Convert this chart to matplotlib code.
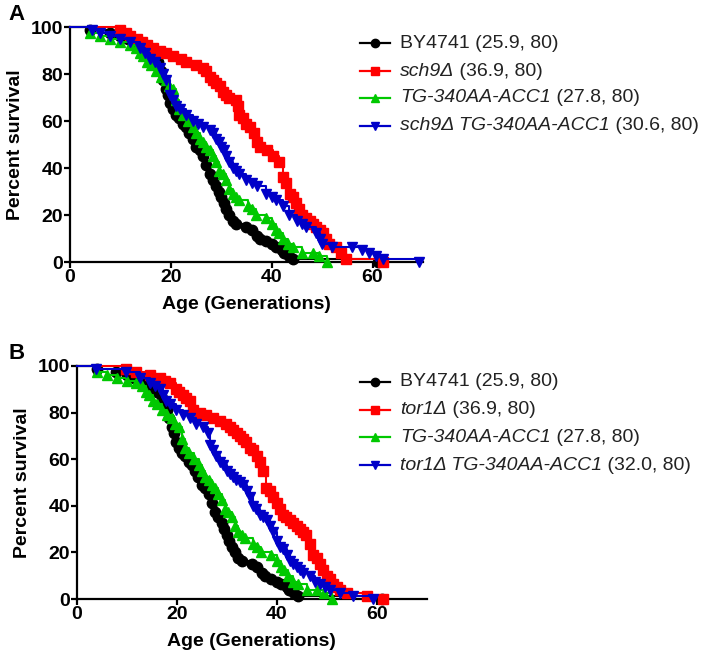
import matplotlib
matplotlib.use("Agg")
import matplotlib.pyplot as plt
from matplotlib.lines import Line2D

# Kaplan-Meier survival (age in generations, % surviving)
by_age = [0, 4, 7.9, 10, 11.5, 13, 13.8, 15, 16, 17, 17.5, 18, 18.5, 19, 19.5, 19.8, 20.5, 21, 21.7, 22.4,
          23, 23.7, 24.3, 25, 25.7, 26.4, 27, 27.7, 28.3, 29, 29.5, 30, 30.5, 31, 31.6, 32.3, 33, 35, 36, 37,
          37.6, 38.9, 40, 40.9, 42, 42.5, 43.5, 44.2, 61]
by_surv = [100, 98.75, 97.5, 96.25, 95, 93.75, 92.5, 90, 88.75, 86.25, 85, 81.25, 77.5, 73.75, 71.25, 67.5, 65, 62.5, 61.25, 58.75,
           57.5, 55, 52.5, 48.75, 47.5, 45, 41.25, 37.5, 35, 32.5, 30, 27.5, 25, 22.5, 20, 17.5, 16.25, 15, 13.75, 11.25,
           10, 8.75, 7.5, 6.25, 5, 3.75, 2.5, 1.25, 0]

tg_age = [0, 4, 6, 8, 10, 11.9, 13, 13.8, 14.5, 15.2, 16, 17, 18, 19, 19.7, 20.4, 21, 21.7, 22.4, 23.4,
          24.4, 25, 25.7, 26.4, 27, 27.7, 28.3, 29, 29.6, 30.3, 31, 31.6, 32.3, 33, 33.6, 35.3, 36.1, 36.9, 38.9, 40,
          40.9, 41.5, 42.2, 43.2, 44.2, 46.1, 48.1, 49.4, 51]
tg_surv = [100, 97.5, 96.25, 95, 93.75, 92.5, 91.25, 88.75, 87.5, 85, 83.75, 81.25, 78.75, 77.5, 75, 73.75, 68.75, 65, 62.5, 60,
           57.5, 55, 52.5, 51.25, 48.75, 47.5, 45, 42.5, 38.75, 37.5, 35, 31.25, 28.75, 27.5, 26.25, 23.75, 22.5, 20, 18.75, 16.25,
           13.75, 12.5, 10, 7.5, 6.25, 3.75, 3.75, 2.5, 0]

sch9_age = [0, 9.9, 11.2, 11.9, 13.2, 14.2, 15.2, 16.5, 17.8, 19.1, 20.4, 22, 23, 25, 26.4, 27, 27.7, 28.4, 29, 29.7,
            30.3, 31, 31.6, 33, 33.3, 33.6, 34.3, 35, 35.7, 36.4, 37, 37.6, 39, 40.2, 41.5, 42.2, 42.9, 43.6, 44.2, 44.8,
            45.5, 46.1, 46.8, 47.5, 48.1, 48.8, 49.5, 50.1, 50.8, 51.4, 52.8, 53.8, 54.7, 62]
sch9_surv = [100, 98.75, 97.5, 96.25, 95, 93.75, 92.5, 91.25, 90, 88.75, 87.5, 86.25, 85, 83.75, 82.5, 81.25, 78.75, 77.5, 76.25, 75,
             72.5, 71.25, 70, 68.75, 66.25, 62.5, 61.25, 58.75, 57.5, 55, 51.25, 48.75, 47.5, 45, 42.5, 36.25, 33.75, 28.75, 27.5, 25,
             22.5, 20, 18.75, 17.5, 16.25, 15, 13.75, 12.5, 10, 7.5, 6.25, 3.75, 1.25, 0]

sch9tg_age = [0, 4.3, 5.9, 7.9, 9.9, 11.9, 13.8, 14.8, 15.8, 16.8, 17.8, 18.5, 19.1, 19.8, 20.4, 21.1, 21.8, 23, 24.4, 25.4,
              26.4, 27.7, 28.4, 29, 29.5, 30, 30.5, 31, 31.6, 32.3, 33, 33.6, 35, 36, 37, 38.9, 40, 40.9, 42.2, 43.5,
              45, 46, 46.8, 48.8, 49.5, 50, 52, 56, 58, 59.3, 60.6, 62, 69.2]
sch9tg_surv = [100, 98.75, 97.5, 96.25, 95, 93.75, 91.25, 88.75, 86.25, 85, 82.5, 80, 77.5, 71.25, 68.75, 66.25, 65, 62.5, 60, 58.75,
               57.5, 56.25, 55, 52.5, 51.25, 48.75, 47.5, 45, 42.5, 40, 38.75, 37.5, 35, 33.75, 32.5, 28.75, 27.5, 26.25, 23.75, 20,
               17.5, 16.25, 15, 12.5, 10, 7.5, 6.25, 6.25, 5, 3.75, 2.5, 1.25, 0]

tor1_age = [0, 9.9, 11.9, 14.6, 16.6, 17.6, 18.6, 19.9, 20.5, 21.2, 21.9, 22.6, 23.2, 24.6, 25.9, 27.3, 28.6, 29.9, 30.6, 31.3,
            32, 32.6, 33.3, 33.9, 34.6, 35.3, 36, 36.6, 37.3, 37.9, 38.6, 39.3, 40, 40.6, 41.3, 41.9, 42.6, 43.3, 44, 44.6,
            45.3, 45.9, 46.6, 47.3, 48, 48.6, 49.3, 50, 50.6, 51.3, 52, 52.6, 54, 58, 61.3]
tor1_surv = [100, 98.75, 97.5, 96.25, 95, 93.75, 92.5, 90, 88.75, 87.5, 86.25, 85, 81.25, 80, 78.75, 77.5, 76.25, 75, 73.75, 72.5,
             71.25, 70, 68.75, 67.5, 65, 63.75, 61.25, 58.75, 55, 47.5, 46.25, 43.75, 41.25, 38.75, 36.25, 35, 33.75, 32.5, 31.25, 30,
             28.75, 27.5, 23.75, 18.75, 17.5, 15, 12.5, 10, 8.75, 6.25, 5, 3.75, 2.5, 1.25, 0]

tor1tg_age = [0, 3.9, 9.9, 12.6, 14.6, 15.6, 16.6, 17.2, 17.9, 18.6, 19.9, 21.2, 22.6, 23.9, 25.3, 26.3, 26.6, 27.3, 27.9, 28.6,
              29.3, 30, 30.6, 31.3, 31.9, 32.6, 33.3, 34, 34.6, 35.3, 35.9, 36.6, 37.3, 38, 38.6, 39.3, 40, 40.6, 41.3, 42,
              42.6, 43.3, 44, 44.6, 45.3, 46.6, 47.6, 48.6, 49.6, 50.6, 52.6, 55.3, 59.3]
tor1tg_surv = [100, 98.75, 97.5, 95, 92.5, 91.25, 90, 87.5, 85, 83.75, 81.25, 78.75, 77.5, 75, 73.75, 71.25, 66.25, 63.75, 61.25, 58.75,
               57.5, 55, 53.75, 52.5, 51.25, 50, 48.75, 46.25, 43.75, 40, 38.75, 36.25, 35, 33.75, 31.25, 28.75, 25, 22.5, 21.25, 18.75,
               16.25, 15, 13.75, 12.5, 11.25, 10, 7.5, 6.25, 5, 3.75, 2.5, 1.25, 0]

# legend entries: (italic part, plain part)
labels_a = [("", "BY4741 (25.9, 80)"),
            ("sch9Δ", " (36.9, 80)"),
            ("TG-340AA-ACC1", " (27.8, 80)"),
            ("sch9Δ TG-340AA-ACC1", " (30.6, 80)")]
labels_b = [("", "BY4741 (25.9, 80)"),
            ("tor1Δ", " (36.9, 80)"),
            ("TG-340AA-ACC1", " (27.8, 80)"),
            ("tor1Δ TG-340AA-ACC1", " (32.0, 80)")]

colors = ["black", "#ff0000", "#00c800", "#0000c8"]
markers = ["o", "s", "^", "v"]

plt.rcParams["font.family"] = ["Liberation Sans", "DejaVu Sans"]
W, H = 709, 660


def legend_rows(labels, rows_px):
    # hand-built legend so gene names can be italic and the rest upright
    for (it, plain), col, mk, ypx in zip(labels, colors, markers, rows_px):
        y = 1 - ypx / H
        fig.add_artist(Line2D([360 / W, 390 / W], [y, y], transform=fig.transFigure, color=col, lw=1.6))
        fig.add_artist(Line2D([375 / W], [y], transform=fig.transFigure, color=col, marker=mk, ms=6, lw=0))
        t = fig.text(400 / W, y, it if it else plain, fontsize=14, color="#222222", va="center",
                     style="italic" if it else "normal")
        if it:
            ax_a.annotate(plain, xy=(1, 0), xycoords=t, va="bottom", ha="left",
                          fontsize=14, color="#222222", annotation_clip=False)


def panel(ax, series):
    for (a, s), col, mk in zip(series, colors, markers):
        ax.plot(a, s, drawstyle="steps-post", color=col, lw=1.5, marker=mk, ms=7.5,
                markevery=slice(1, None), clip_on=False, zorder=3)
    ax.set_xlim(0, 70)
    ax.set_ylim(0, 100)
    ax.set_xticks([0, 20, 40, 60])
    ax.set_yticks([0, 20, 40, 60, 80, 100])
    ax.spines[["top", "right"]].set_visible(False)
    for sp in ("left", "bottom"):
        ax.spines[sp].set_linewidth(1.6)
    ax.tick_params(width=1.6, length=4, labelsize=14, pad=1)
    for t in ax.get_xticklabels() + ax.get_yticklabels():
        t.set_fontweight("bold")
    ax.set_xlabel("Age (Generations)", fontsize=14, fontweight="bold", labelpad=7)
    ax.set_ylabel("Percent survival", fontsize=14, fontweight="bold", labelpad=5)


fig = plt.figure(figsize=(7.09, 6.6), dpi=100)
ax_a = fig.add_axes([0.0987, 0.603, 0.4979, 0.356])
ax_b = fig.add_axes([0.1086, 0.0924, 0.4934, 0.3531])

panel(ax_a, [(by_age, by_surv), (sch9_age, sch9_surv), (tg_age, tg_surv), (sch9tg_age, sch9tg_surv)])
panel(ax_b, [(by_age, by_surv), (tor1_age, tor1_surv), (tg_age, tg_surv), (tor1tg_age, tor1tg_surv)])

legend_rows(labels_a, [43, 71, 98, 126])
legend_rows(labels_b, [382, 410, 437, 465])

fig.text(8 / W, 1 - 4 / H, "A", fontsize=16, fontweight="bold", va="top")
fig.text(8 / W, 1 - 343 / H, "B", fontsize=16, fontweight="bold", va="top")

fig.savefig("out.png", dpi=100)
